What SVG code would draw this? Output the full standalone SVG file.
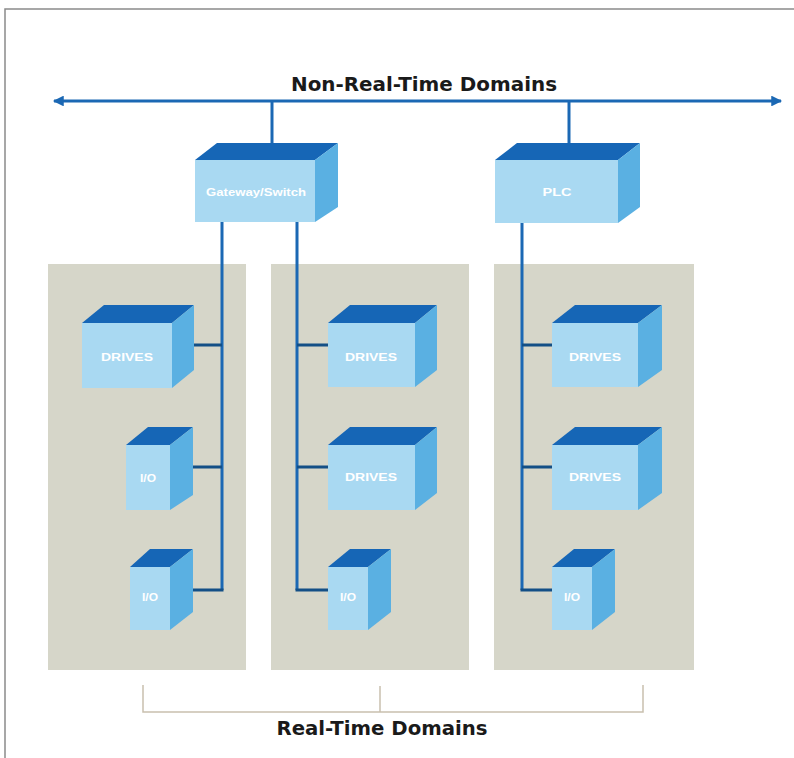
<svg xmlns="http://www.w3.org/2000/svg" width="794" height="758" viewBox="0 0 794 758">
<style>
.panel{fill:#d6d6c9}
.front{fill:#a9d9f2}
.top{fill:#1666b6}
.side{fill:#5ab0e2}
.lbl{font-family:"Liberation Sans",Arial,sans-serif;font-weight:bold;font-size:11px;fill:#ffffff;text-anchor:middle}
.bus{stroke:#1b68b4;stroke-width:3;fill:none}
.br{stroke:#134f86;stroke-width:3;fill:none}
.title{font-family:"DejaVu Sans",Verdana,sans-serif;font-weight:bold;font-size:19.5px;fill:#1a1a1a;text-anchor:middle}
.brk{stroke:#c9c0ae;stroke-width:1.5;fill:none}
</style>
<defs>
<marker id="ah" viewBox="0 0 10 10" refX="9" refY="5" markerWidth="4.5" markerHeight="3.6" orient="auto-start-reverse" markerUnits="strokeWidth">
<path d="M0,0 L10,5 L0,10 z" fill="#1b68b4"/>
</marker>
</defs>
<rect x="0" y="0" width="794" height="758" fill="#ffffff"/>
<path d="M5,758 L5,9 L794,9" stroke="#8a8a8a" stroke-width="1.5" fill="none"/>

<g id="panels">
<rect class="panel" x="48" y="264" width="198" height="406"/>
<rect class="panel" x="271" y="264" width="198" height="406"/>
<rect class="panel" x="494" y="264" width="200" height="406"/>
</g>

<text id="title-top" class="title" x="424" y="91" textLength="266" lengthAdjust="spacingAndGlyphs">Non-Real-Time Domains</text>

<g id="connectors">
<line class="bus" x1="54" y1="101" x2="781" y2="101" marker-start="url(#ah)" marker-end="url(#ah)"/>
<line class="bus" x1="272" y1="101" x2="272" y2="144"/>
<line class="bus" x1="569" y1="101" x2="569" y2="144"/>
<path class="bus" d="M222,222 L222,590"/>
<path class="bus" d="M297,222 L297,590"/>
<path class="bus" d="M522,223 L522,590"/>
<path class="br" d="M193,345 L222,345 M193,467 L222,467 M192,590 L223.5,590"/>
<path class="br" d="M295.5,590 L328,590 M297,345 L328,345 M297,467 L328,467"/>
<path class="br" d="M520.5,590 L552,590 M522,345 L552,345 M522,467 L552,467"/>
<path class="brk" d="M143,685 L143,712 L643,712 L643,685 M380,686 L380,712"/>
</g>

<g id="gateway">
<polygon class="top" points="195,160 217,143 338,143 315,160"/>
<polygon class="side" points="315,160 338,143 338,207 315,222"/>
<rect class="front" x="195" y="160" width="120" height="62"/>
<text class="lbl" x="256" y="196" textLength="100" lengthAdjust="spacingAndGlyphs">Gateway/Switch</text>
</g>

<g id="plc">
<polygon class="top" points="495,160 517,143 640,143 618,160"/>
<polygon class="side" points="618,160 640,143 640,207 618,223"/>
<rect class="front" x="495" y="160" width="123" height="63"/>
<text class="lbl" x="557" y="196" textLength="29" lengthAdjust="spacingAndGlyphs">PLC</text>
</g>

<g id="drives1">
<polygon class="top" points="82,323 104,305 194,305 172,323"/>
<polygon class="side" points="172,323 194,305 194,370 172,388"/>
<rect class="front" x="82" y="323" width="90" height="65"/>
<text class="lbl" x="127" y="361" textLength="52" lengthAdjust="spacingAndGlyphs">DRIVES</text>
</g>

<g id="io1">
<polygon class="top" points="126,445 148,427 193,427 170,445"/>
<polygon class="side" points="170,445 193,427 193,495 170,510"/>
<rect class="front" x="126" y="445" width="44" height="65"/>
<text class="lbl" x="148" y="482" textLength="16" lengthAdjust="spacingAndGlyphs">I/O</text>
</g>

<g id="io2">
<polygon class="top" points="130,567 150,549 193,549 170,567"/>
<polygon class="side" points="170,567 193,549 193,612 170,630"/>
<rect class="front" x="130" y="567" width="40" height="63"/>
<text class="lbl" x="150" y="601" textLength="16" lengthAdjust="spacingAndGlyphs">I/O</text>
</g>

<g id="drives2">
<polygon class="top" points="328,323 350,305 437,305 415,323"/>
<polygon class="side" points="415,323 437,305 437,370 415,387"/>
<rect class="front" x="328" y="323" width="87" height="64"/>
<text class="lbl" x="371" y="361" textLength="52" lengthAdjust="spacingAndGlyphs">DRIVES</text>
</g>

<g id="drives3">
<polygon class="top" points="328,445 350,427 437,427 415,445"/>
<polygon class="side" points="415,445 437,427 437,493 415,510"/>
<rect class="front" x="328" y="445" width="87" height="65"/>
<text class="lbl" x="371" y="481" textLength="52" lengthAdjust="spacingAndGlyphs">DRIVES</text>
</g>

<g id="io3">
<polygon class="top" points="328,567 350,549 391,549 368,567"/>
<polygon class="side" points="368,567 391,549 391,612 368,630"/>
<rect class="front" x="328" y="567" width="40" height="63"/>
<text class="lbl" x="348" y="601" textLength="16" lengthAdjust="spacingAndGlyphs">I/O</text>
</g>

<g id="drives4">
<polygon class="top" points="552,323 575,305 662,305 638,323"/>
<polygon class="side" points="638,323 662,305 662,370 638,387"/>
<rect class="front" x="552" y="323" width="86" height="64"/>
<text class="lbl" x="595" y="361" textLength="52" lengthAdjust="spacingAndGlyphs">DRIVES</text>
</g>

<g id="drives5">
<polygon class="top" points="552,445 575,427 662,427 638,445"/>
<polygon class="side" points="638,445 662,427 662,493 638,510"/>
<rect class="front" x="552" y="445" width="86" height="65"/>
<text class="lbl" x="595" y="481" textLength="52" lengthAdjust="spacingAndGlyphs">DRIVES</text>
</g>

<g id="io4">
<polygon class="top" points="552,567 574,549 615,549 592,567"/>
<polygon class="side" points="592,567 615,549 615,612 592,630"/>
<rect class="front" x="552" y="567" width="40" height="63"/>
<text class="lbl" x="572" y="601" textLength="16" lengthAdjust="spacingAndGlyphs">I/O</text>
</g>

<text id="title-bottom" class="title" x="382" y="735" textLength="211" lengthAdjust="spacingAndGlyphs">Real-Time Domains</text>
</svg>
